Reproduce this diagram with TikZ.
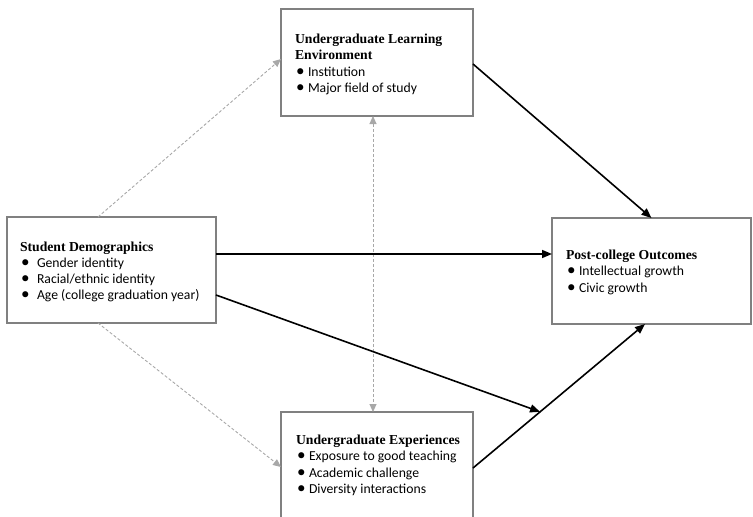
\documentclass[tikz,border=0pt]{standalone}
\usepackage{fontspec}
\setmainfont{Liberation Serif}
\newfontfamily\calib{Carlito}
\usetikzlibrary{arrows.meta,calc}
\definecolor{boxgray}{RGB}{128,128,128}
\definecolor{dashgray}{RGB}{168,168,168}
\newcommand{\bul}[2][13pt]{{\calib\makebox[#1][l]{\hspace{1pt}\scalebox{1.25}{\textbullet}}#2}}
\begin{document}
\begin{tikzpicture}[x=1pt,y=-1pt,
  box/.style={draw=boxgray,line width=2pt,fill=white,inner sep=0pt,outer sep=0pt},
  txt/.style={inner sep=0pt,outer sep=0pt,align=left,anchor=north west,
    font=\fontsize{13.7pt}{16.3pt}\selectfont},
  solidarrow/.style={draw=black,line width=1.6pt,-{Triangle[length=10pt,width=8pt]}},
  dasharrow/.style={draw=dashgray,line width=0.9pt,dash pattern=on 3pt off 2pt,
    -{Triangle[length=8pt,width=7pt]}},
  dashboth/.style={dasharrow,{Triangle[length=8pt,width=7pt]}-{Triangle[length=8pt,width=7pt]}}
]
\useasboundingbox (0,0) rectangle (753,517);
\clip (0,0) rectangle (753,517);

% boxes
\node[box,minimum width=192pt,minimum height=107pt] (ule) at (377,62.5) {};
\node[box,minimum width=209pt,minimum height=106pt] (sd) at (111.5,270) {};
\node[box,minimum width=199pt,minimum height=106pt] (pco) at (651.5,271) {};
\node[box,minimum width=192pt,minimum height=120pt] (ue) at (377,472) {};

% texts
\node[txt] (uletxt) at (295,34) {\textbf{Undergraduate Learning}\\\textbf{Environment}\\
  \bul{Institution}\\\bul{Major field of study}};
\node[txt] (sdtxt) at (20,241.5) {\textbf{Student Demographics}\\
  \bul[17pt]{Gender identity}\\\bul[17pt]{Racial/ethnic identity}\\\bul[17pt]{Age (college graduation year)}};
\node[txt] (pcotxt) at (566,250) {\textbf{Post-college Outcomes}\\
  \bul{Intellectual growth}\\\bul{Civic growth}};
\node[txt] (uetxt) at (296,435) {\textbf{Undergraduate Experiences}\\
  \bul{Exposure to good teaching}\\\bul{Academic challenge}\\\bul{Diversity interactions}};

% connector points
\coordinate (ueout) at ([yshift=4pt]ue.east);
\coordinate (pcoin) at ([xshift=-6.5pt]pco.south);
\coordinate (m) at ($(ueout)!0.39!(pcoin)$);

% dashed connectors
\draw[dasharrow] ([xshift=-13.5pt]sd.north) -- ([yshift=3.5pt]ule.west);
\draw[dasharrow] ([xshift=-13.5pt]sd.south) -- ([yshift=5pt]ue.west);
\draw[dashboth] ([xshift=-4pt]ule.south) -- ([xshift=-4pt]ue.north);

% solid connectors
\draw[solidarrow] ([yshift=-1.5pt]ule.east) -- (pco.north);
\draw[solidarrow] ([yshift=16pt]sd.east) -- ([yshift=17pt]pco.west);
\draw[solidarrow] ([yshift=-25pt]sd.east) -- (m);
\draw[solidarrow] (ueout) -- (pcoin);
\end{tikzpicture}
\end{document}
